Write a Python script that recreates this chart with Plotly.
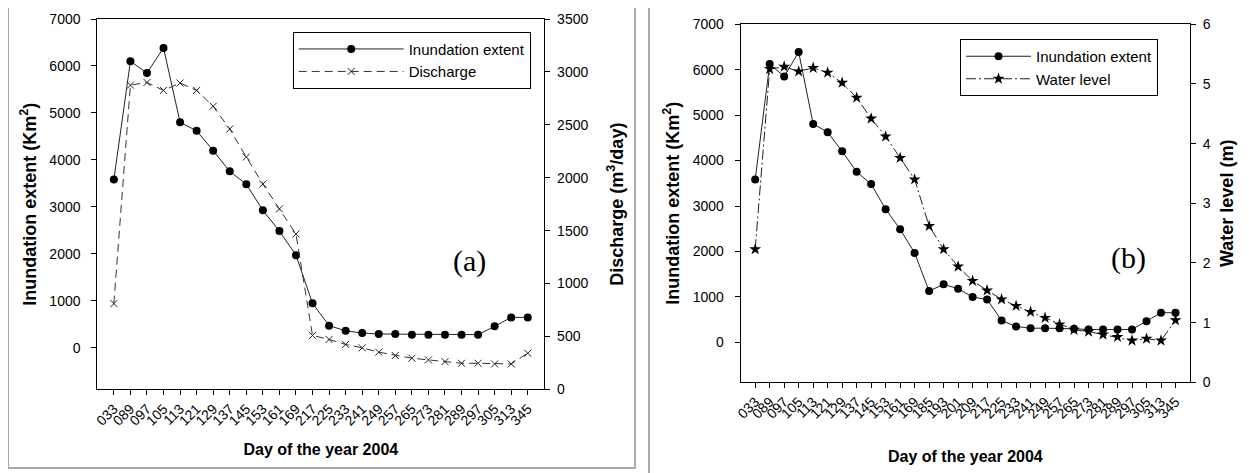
import plotly.graph_objects as go

# ---------------- data ----------------
days_a = ["033", "089", "097", "105", "113", "121", "129", "137", "145", "153", "161", "169", "217",
          "225", "233", "241", "249", "257", "265", "273", "281", "289", "297", "305", "313", "345"]
inund_a = [3580, 6100, 5850, 6385, 4800, 4620, 4195, 3755, 3480, 2925, 2485, 1970, 945,
           470, 360, 312, 292, 290, 278, 278, 278, 278, 278, 455, 645, 645]
discharge_a = [810, 2875, 2900, 2825, 2895, 2825, 2675, 2460, 2195, 1940, 1705, 1467, 509,
               471, 424, 392, 351, 319, 294, 278, 262, 246, 246, 240, 240, 341]

days_b = ["033", "089", "097", "105", "113", "121", "129", "137", "145", "153", "161", "169", "185",
          "193", "201", "209", "217", "225", "233", "241", "249", "257", "265", "273", "281", "289",
          "297", "305", "313", "345"]
inund_b = [3586, 6124, 5851, 6389, 4807, 4624, 4204, 3754, 3483, 2931, 2489, 1967, 1128,
           1276, 1181, 996, 945, 481, 349, 311, 311, 311, 298, 283, 283, 283,
           283, 466, 651, 651]
level_b = [2.23, 5.25, 5.29, 5.21, 5.27, 5.19, 5.02, 4.77, 4.42, 4.12, 3.76, 3.40, 2.62,
           2.23, 1.94, 1.70, 1.54, 1.39, 1.28, 1.18, 1.08, 0.97, 0.88, 0.85, 0.80, 0.76,
           0.70, 0.73, 0.70, 1.04]

W, H = 1249, 473
OFF = 8  # default page body margin
FONT = "Arial, Liberation Sans, sans-serif"


def px_x(p):
    return (p - OFF) / W


def px_y(p):
    return 1 - (p - OFF) / H


fig = go.Figure()

# ---- panel (a) ----
fig.add_trace(go.Scatter(x=days_a, y=inund_a, name="Inundation extent", xaxis="x", yaxis="y",
                         mode="lines+markers", legend="legend",
                         line=dict(color="#222222", width=1),
                         marker=dict(symbol="circle", size=8, color="black")))
fig.add_trace(go.Scatter(x=days_a, y=discharge_a, name="Discharge", xaxis="x", yaxis="y2",
                         mode="lines+markers", legend="legend",
                         line=dict(color="#333333", width=1, dash="8px,5px"),
                         marker=dict(symbol="x-thin-open", size=7, color="#222222",
                                     line=dict(width=1, color="#222222"))))

# ---- panel (b) ----
fig.add_trace(go.Scatter(x=days_b, y=inund_b, name="Inundation extent", xaxis="x3", yaxis="y3",
                         mode="lines+markers", legend="legend2",
                         line=dict(color="#222222", width=1),
                         marker=dict(symbol="circle", size=8, color="black")))
fig.add_trace(go.Scatter(x=days_b, y=level_b, name="Water level", xaxis="x3", yaxis="y4",
                         mode="lines+markers", legend="legend2",
                         line=dict(color="#222222", width=1, dash="10px,3px,2px,3px"),
                         marker=dict(symbol="star", size=9, color="black")))

tickfont = dict(family=FONT, size=14, color="black")
xtickfont = dict(family=FONT, size=14, color="black")
xtitlefont = dict(family=FONT, size=16, color="black", weight="bold")
ytitlefont = dict(family=FONT, size=18, color="black", weight="bold")

common_axis = dict(showline=True, linecolor="black", linewidth=1, ticks="outside", ticklen=5,
                   tickcolor="black", showgrid=False, zeroline=False, automargin=False)

fig.update_layout(
    width=W, height=H, margin=dict(l=0, r=0, t=0, b=0),
    paper_bgcolor="white", plot_bgcolor="white",
    showlegend=True,
    xaxis=dict(domain=[px_x(97.3), px_x(544.3)], anchor="y", type="category",
               range=[-1, 26], tickmode="linear", dtick=1, tickangle=-45, tickfont=xtickfont,
               mirror=True,
               title=dict(text="Day of the year 2004", font=xtitlefont, standoff=16),
               **common_axis),
    yaxis=dict(domain=[px_y(389.3), px_y(19)], anchor="x", range=[-886, 7000],
               tickvals=[0, 1000, 2000, 3000, 4000, 5000, 6000, 7000], tickfont=tickfont,
               ticklabelstandoff=8,
               title=dict(text="Inundation extent (Km<sup>2</sup>)", font=ytitlefont, standoff=8),
               **common_axis),
    yaxis2=dict(overlaying="y", anchor="x", side="right", range=[0, 3500],
                tickvals=[0, 500, 1000, 1500, 2000, 2500, 3000, 3500], tickfont=tickfont,
                ticklabelstandoff=4,
                title=dict(text="Discharge (m<sup>3</sup>/day)", font=ytitlefont, standoff=22),
                **common_axis),
    xaxis3=dict(domain=[px_x(740.7), px_x(1190)], anchor="y3", type="category",
                range=[-1, 30], tickmode="linear", dtick=1, tickangle=-45, tickfont=xtickfont,
                mirror=True,
                title=dict(text="Day of the year 2004", font=xtitlefont, standoff=30),
                **common_axis),
    yaxis3=dict(domain=[px_y(382.3), px_y(24.3)], anchor="x3", range=[-880, 7000],
                tickvals=[0, 1000, 2000, 3000, 4000, 5000, 6000, 7000], tickfont=tickfont,
                ticklabelstandoff=8,
                title=dict(text="Inundation extent (Km<sup>2</sup>)", font=ytitlefont, standoff=8),
                **common_axis),
    yaxis4=dict(overlaying="y3", anchor="x3", side="right", range=[0, 6],
                tickvals=[0, 1, 2, 3, 4, 5, 6], tickfont=tickfont,
                ticklabelstandoff=4,
                title=dict(text="Water level (m)", font=ytitlefont, standoff=10),
                **common_axis),
    legend=dict(x=px_x(292.7), y=px_y(31.7), xanchor="left", yanchor="top",
                bordercolor="black", borderwidth=1, bgcolor="white", itemwidth=105,
                font=dict(family=FONT, size=15, color="black")),
    legend2=dict(x=px_x(960), y=px_y(39), xanchor="left", yanchor="top",
                 bordercolor="black", borderwidth=1, bgcolor="white", itemwidth=65,
                 font=dict(family=FONT, size=15, color="black")),
    annotations=[
        dict(text="(a)", x=px_x(469), y=px_y(261), xref="paper", yref="paper", showarrow=False,
             xanchor="center", yanchor="middle",
             font=dict(family="Liberation Serif, Times New Roman, serif", size=30, color="black")),
        dict(text="(b)", x=px_x(1128), y=px_y(258), xref="paper", yref="paper", showarrow=False,
             xanchor="center", yanchor="middle",
             font=dict(family="Liberation Serif, Times New Roman, serif", size=30, color="black")),
    ],
    shapes=[
        dict(type="rect", xref="paper", yref="paper", x0=px_x(8), x1=px_x(635), y0=px_y(468),
             y1=px_y(5), line=dict(color="#aaaaaa", width=2), layer="below"),
        dict(type="rect", xref="paper", yref="paper", x0=px_x(649), x1=px_x(1270), y0=px_y(495),
             y1=px_y(4), line=dict(color="#aaaaaa", width=2), layer="below"),
    ],
)

fig.write_html("out.html")
